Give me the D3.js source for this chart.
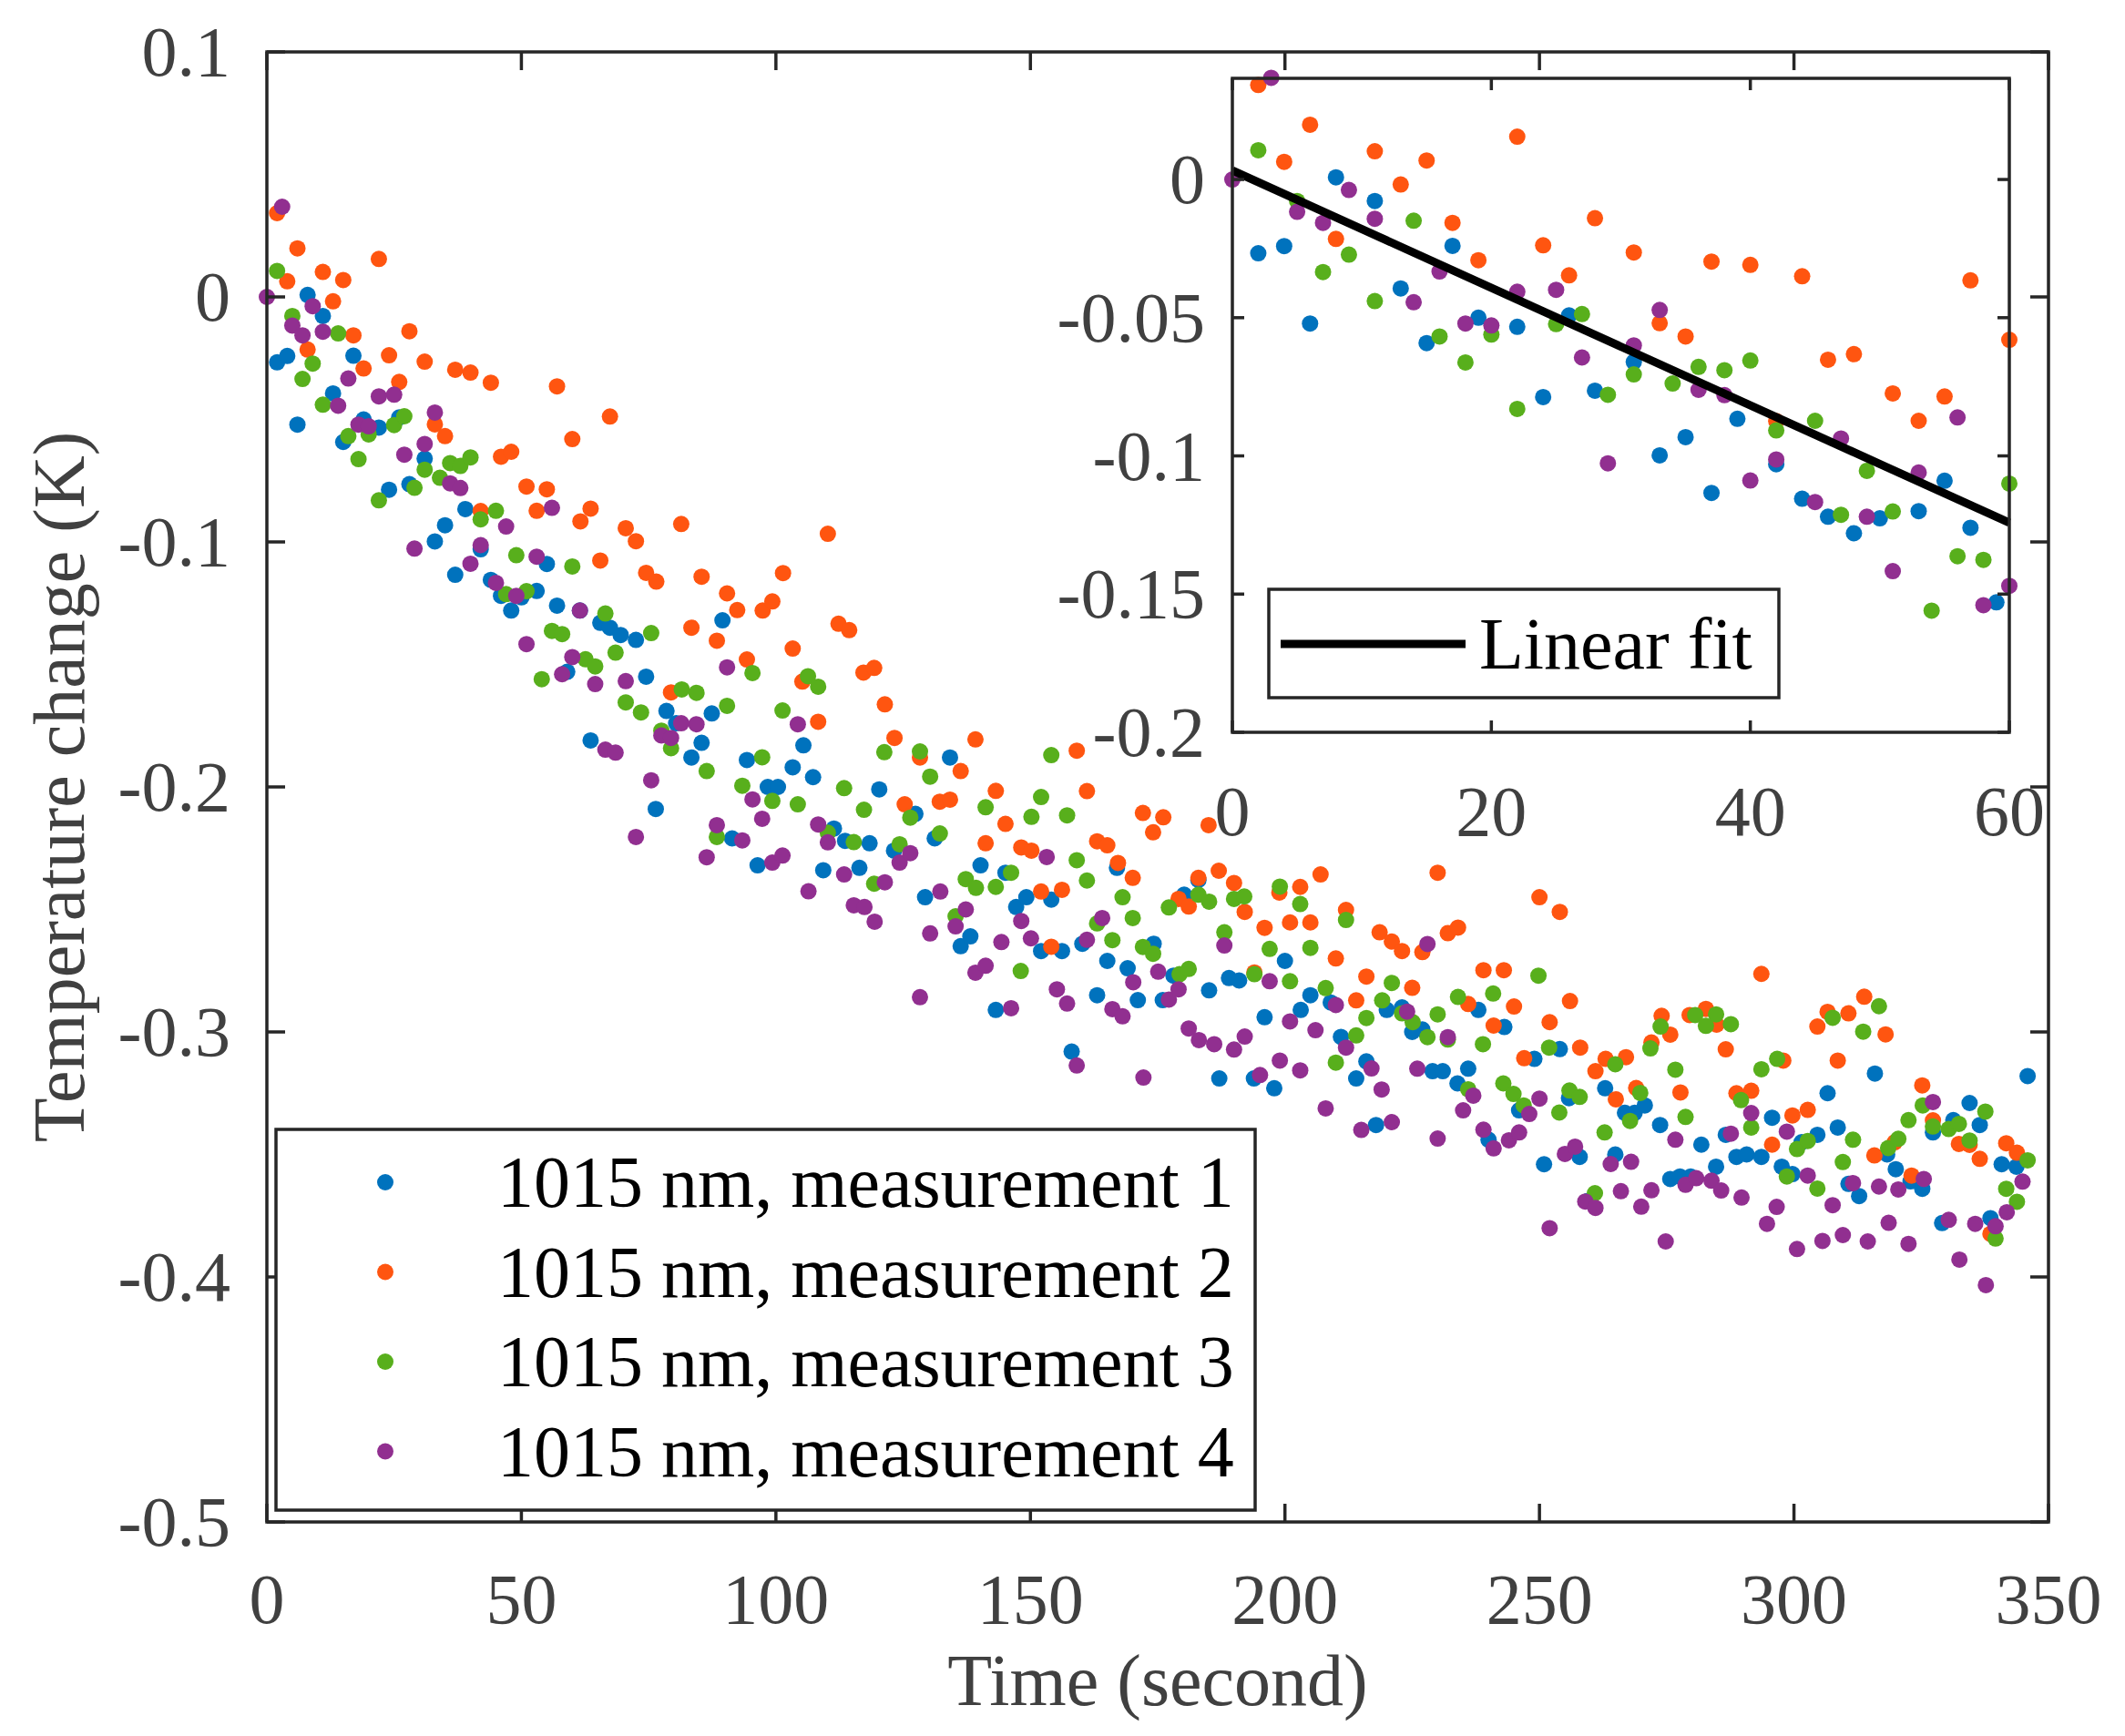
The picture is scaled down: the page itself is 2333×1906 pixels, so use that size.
<!DOCTYPE html>
<html>
<head>
<meta charset="utf-8">
<script src="https://cdn.jsdelivr.net/npm/d3@7/dist/d3.min.js"></script>
<style>
    body { margin: 0; background: #fff; }
    text { font-family: "Liberation Serif", "Times New Roman", serif; }
</style>
</head>
<body>
<div class="wrapper-svg"></div>
<script>
// data -----------------------------------------------------------------
var seriesNames = ['1015 nm, measurement 1', '1015 nm, measurement 2', '1015 nm, measurement 3', '1015 nm, measurement 4'];

var time1 = [2,4,6,8,11,13,15,17,19,22,24,26,28,31,33,35,37,39,42,44,46,48,50,53,55,57,59,
    61.5,63.6,65.5,67.4,69.5,72.5,74.5,76.4,78.5,80.4,83.4,85.4,87.4,89.5,91.4,94.3,96.4,98.4,100.4,103.3,105.4,107.3,109.3,111.4,113.6,
    116.4,118.4,120.3,123.2,127.4,129.3,131.2,134.2,136.3,138.2,140.2,143.2,145.1,147.2,149.2,152.1,154.1,156.2,158.1,160.2,163.1,
    165.1,167,169.1,171.1,174.2,176,178.1,180.2,183,185.1,187.1,189,191,193.9,196,197.9,200,203.1,205,209,211,214,216,217.9,
    220,223,225,227,229,231,233.9,236,238,240,243.1,246,249,250.9,254,255.8,257.9,259.5,262.9,264.9,266.8,268.7,270.7,273.7,
    275.7,277.6,279.7,281.8,284.7,286.6,288.7,290.7,293.6,295.7,297.6,299.7,301.5,304.6,306.6,308.6,310.7,312.8,315.9,318.3,320,322.9,325.2,327.3,329.1,331.3,334.5,336.5,338.6,340.8,343.7,345.9];
var temp1 = [-0.0267,-0.0241,-0.0521,0.0008,-0.0078,-0.0394,-0.0592,-0.024,-0.05,-0.0533,-0.0787,-0.0492,-0.0764,-0.066,-0.0998,-0.0932,-0.1134,-0.0866,-0.103,-0.1155,-0.122,-0.128,-0.1226,-0.12,-0.109,-0.126,-0.153,
    -0.128,-0.181,-0.133,-0.135,-0.138,-0.140,-0.155,-0.209,-0.169,-0.174,-0.188,-0.182,-0.170,-0.132,-0.221,-0.189,-0.232,-0.200,-0.200,-0.192,-0.183,-0.196,-0.234,-0.217,-0.222,
    -0.233,-0.223,-0.201,-0.226,-0.211,-0.245,-0.221,-0.188,-0.265,-0.261,-0.232,-0.291,-0.235,-0.249,-0.245,-0.267,-0.246,-0.267,-0.308,-0.264,-0.285,
    -0.271,-0.233,-0.274,-0.287,-0.264,-0.287,-0.277,-0.244,-0.238,-0.283,-0.319,-0.278,-0.279,-0.319,-0.294,-0.323,-0.271,-0.291,-0.285,-0.288,-0.302,-0.319,-0.312,-0.338,
    -0.291,-0.290,-0.300,-0.299,-0.316,-0.316,-0.321,-0.315,-0.291,-0.344,-0.298,-0.332,-0.311,-0.354,-0.307,-0.327,-0.351,-0.369,-0.323,-0.350,-0.333,-0.333,-0.330,-0.338,
    -0.360,-0.359,-0.359,-0.346,-0.355,-0.342,-0.351,-0.350,-0.351,-0.335,-0.355,-0.358,-0.345,-0.342,-0.325,-0.339,-0.362,-0.367,-0.317,-0.350,-0.356,-0.361,-0.364,-0.341,-0.378,-0.336,-0.329,-0.338,-0.376,-0.354,-0.355,-0.318];

var time2 = [2,4,6,8,11,13,15,17,19,22,24,26,28,31,33,35,37,40,42,44,46,48,51,53,55,57,60,
    61.6,63.6,65.5,67.4,70.5,72.5,74.5,76.5,79.4,81.4,83.4,85.4,88.4,90.4,92.4,94.3,97.4,99.3,101.4,103.3,105.2,108.3,110.2,112.3,114.4,
    117.2,119.3,121.4,123.3,125.3,128.3,132.2,134.2,136.3,139.2,141.2,143.2,145.1,148.2,150.2,152.1,154.1,156.2,159.1,161.1,163.1,
    165.1,167.2,170.1,172.1,174.1,176.1,179.1,181.1,183,185,187,190,192.1,194,196,198.9,201,203,205,207,210,212,214,216,218.6,
    221,223,225,227,230,232,234,236,239,241,243,245,247,250,252,254,256,258,261,263,265,267,269,272,274,
    275.7,277.7,279.5,282.7,284.8,286.6,288.7,291.6,293.6,295.7,297.9,299.7,302.7,304.6,306.6,308.6,310.7,313.8,315.8,318,319.8,323.1,325.2,327.3,332.4,334.5,336.5,338.6,341.7,343.8];
var temp2 = [0.0342,0.0064,0.0198,-0.0215,0.0102,-0.0018,0.0069,-0.0157,-0.0292,0.0155,-0.0238,-0.0347,-0.014,-0.0264,-0.052,-0.0568,-0.0297,-0.0309,-0.0874,-0.035,-0.0652,-0.0632,-0.0774,-0.0873,-0.0785,-0.0365,-0.058,
    -0.0916,-0.0864,-0.1076,-0.0488,-0.0944,-0.0997,-0.1126,-0.1162,-0.1614,-0.0927,-0.135,-0.1142,-0.1403,-0.121,-0.1278,-0.148,-0.128,-0.1243,-0.1127,-0.1435,-0.157,-0.1734,-0.0967,-0.1334,-0.136,
    -0.1533,-0.1514,-0.1663,-0.18,-0.2071,-0.188,-0.206,-0.2052,-0.1935,-0.1806,-0.223,-0.2016,-0.2151,-0.2247,-0.226,-0.2427,-0.2652,-0.242,-0.1852,-0.2017,-0.2222,
    -0.2238,-0.231,-0.2371,-0.2106,-0.2185,-0.2124,-0.2457,-0.2488,-0.2371,-0.2156,-0.2342,-0.2392,-0.251,-0.2757,-0.2575,-0.2431,-0.2553,-0.2408,-0.2553,-0.2357,-0.27,-0.2502,-0.2871,-0.2774,-0.2593,
    -0.2631,-0.267,-0.282,-0.2674,-0.235,-0.2597,-0.2574,-0.2886,-0.2748,-0.2974,-0.2748,-0.2896,-0.3107,-0.245,-0.296,-0.251,-0.2874,-0.3064,-0.316,-0.311,-0.3275,-0.3103,-0.3229,-0.3043,-0.2934,
    -0.3011,-0.3247,-0.2931,-0.2906,-0.297,-0.3071,-0.325,-0.324,-0.2763,-0.346,-0.3117,-0.3341,-0.3318,-0.2978,-0.2918,-0.3117,-0.2924,-0.2856,-0.3504,-0.301,-0.345,-0.3586,-0.3218,-0.3361,-0.3457,-0.3461,-0.3518,-0.3824,-0.3454,-0.3493];

var time3 = [2,5,7,9,11,14,16,18,20,22,25,27,29,31,34,36,38,40,42,45,47,49,51,54,56,58,60,
    62.6,64.5,66.5,68.5,70.5,73.5,75.5,77.5,79.4,81.5,84.4,86.4,88.4,90.4,93.4,95.4,97.3,99.3,101.3,104.3,106.3,108.3,110.2,113.4,
    115.3,117.3,119.3,121.3,124.3,126.4,128.3,130.3,132.2,135.3,137.3,139.3,141.2,143.2,146.2,148.1,150.2,152.1,154.1,157.2,159.1,161.1,163.1,
    166.1,168.1,170.1,172.1,174.1,177.2,179.3,181.1,183,185.1,188.1,190,192,194,197,199,201,203,205,208,210,212,214,216,219.1,
    221,223,225.1,228,230,232,234,236,238.9,240.9,242.9,244.9,246.9,249.8,251.9,253.9,255.9,257.9,260.9,262.8,264.9,267.8,269.8,271.8,273.8,
    276.7,278.7,280.6,282.7,284.7,287.6,289.6,291.6,293.6,296.7,298.6,300.6,302.7,304.6,307.6,309.6,311.6,313.6,316.7,318.5,320.5,322.5,325.3,327.3,330.4,332.4,334.5,337.6,339.6,341.7,343.8,345.9];
var temp3 = [0.0106,-0.0078,-0.0335,-0.0272,-0.044,-0.0149,-0.0568,-0.0662,-0.0561,-0.083,-0.0523,-0.0487,-0.0779,-0.0705,-0.0738,-0.0678,-0.069,-0.0655,-0.0908,-0.0873,-0.1213,-0.1054,-0.1201,-0.156,-0.1363,-0.1376,-0.11,
    -0.1479,-0.1508,-0.1292,-0.1452,-0.1655,-0.1696,-0.1372,-0.177,-0.1842,-0.1602,-0.1616,-0.1935,-0.2204,-0.1669,-0.1995,-0.1535,-0.1879,-0.2057,-0.1688,-0.2071,-0.1548,-0.1591,-0.2187,-0.2005,
    -0.2225,-0.2093,-0.2395,-0.1858,-0.2234,-0.2125,-0.1855,-0.1958,-0.219,-0.2528,-0.2376,-0.2412,-0.2083,-0.2408,-0.235,-0.2751,-0.2122,-0.2041,-0.187,-0.2116,-0.2299,-0.2382,-0.2557,
    -0.2625,-0.245,-0.2535,-0.2653,-0.2681,-0.2492,-0.2764,-0.2743,-0.244,-0.2468,-0.2593,-0.2457,-0.2447,-0.2764,-0.2661,-0.2407,-0.2793,-0.2478,-0.2657,-0.2821,-0.3125,-0.2543,-0.3014,-0.2943,-0.2871,
    -0.28,-0.2924,-0.296,-0.3021,-0.2928,-0.3031,-0.2857,-0.3234,-0.305,-0.2843,-0.321,-0.3253,-0.33,-0.277,-0.3064,-0.3329,-0.3239,-0.3265,-0.3658,-0.341,-0.3132,-0.3363,-0.3249,-0.3067,-0.2978,
    -0.3154,-0.3347,-0.2931,-0.2975,-0.2928,-0.2968,-0.3278,-0.339,-0.3152,-0.311,-0.359,-0.3478,-0.3445,-0.3639,-0.2942,-0.3531,-0.344,-0.2999,-0.2895,-0.3474,-0.3436,-0.336,-0.33,-0.3386,-0.3396,-0.3375,-0.3443,-0.3325,-0.3843,-0.364,-0.3693,-0.3524];

var time4 = [0,3,5,7,9,11,14,16,18,20,22,25,27,29,31,33,36,38,40,42,45,47,49,51,53,56,58,60,
    61.5,64.5,66.5,68.5,70.5,72.5,75.5,77.5,79.4,81.4,84.4,86.4,88.4,90.4,93.4,95.4,97.3,99.3,101.3,104.3,106.4,108.3,110.2,113.4,
    115.3,117.4,119.4,121.4,124.3,126.4,128.3,130.3,132.3,135.3,137.3,139.2,141.2,144.3,146.2,148.2,150.1,153.2,155.2,157.2,159.1,161.1,164.1,
    166.1,168.1,170.2,172.2,175.1,177.2,179.1,181.1,183.1,186.1,188.1,190,192.1,195.1,197,199,201,203,206,208,210,212,215,217,219,
    221,224,226,228,230,232,235,237,239,241,244,246,248,250,252,255,257,259,261,264,266,268,270,272,274.8,
    276.7,278.7,280.8,283.8,285.7,287.6,289.7,291.6,294.7,296.6,298.6,300.6,302.7,305.6,307.6,309.6,311.6,314.5,316.7,318.6,320.5,322.5,325.5,327.3,330.4,332.5,335.6,337.7,339.6,341.8,344.9];
var temp4 = [0,0.0368,-0.0117,-0.0157,-0.0038,-0.0142,-0.0444,-0.0333,-0.0521,-0.0528,-0.0406,-0.0399,-0.0644,-0.1027,-0.060,-0.0472,-0.0761,-0.078,-0.1089,-0.1013,-0.1167,-0.0937,-0.122,-0.1417,-0.106,-0.0861,-0.154,-0.147,
    -0.128,-0.158,-0.1848,-0.186,-0.1568,-0.2204,-0.1973,-0.179,-0.18,-0.174,-0.1744,-0.2287,-0.2156,-0.1512,-0.2218,-0.2051,-0.213,-0.2309,-0.228,-0.1744,-0.2426,-0.2153,-0.2226,-0.2357,
    -0.2483,-0.249,-0.255,-0.2389,-0.2309,-0.227,-0.2858,-0.2598,-0.2427,-0.2569,-0.25,-0.2758,-0.273,-0.2633,-0.2903,-0.2547,-0.2618,-0.2286,-0.2826,-0.2884,-0.3137,-0.2624,-0.2535,
    -0.2907,-0.2936,-0.2797,-0.3186,-0.2754,-0.2868,-0.2826,-0.2986,-0.3033,-0.305,-0.2647,-0.3072,-0.3019,-0.3176,-0.2793,-0.3117,-0.2957,-0.3157,-0.2993,-0.3312,-0.289,-0.3064,-0.34,-0.3149,-0.3235,
    -0.3368,-0.2917,-0.315,-0.2641,-0.3435,-0.3021,-0.332,-0.326,-0.3399,-0.3475,-0.3442,-0.341,-0.3335,-0.3272,-0.3801,-0.3498,-0.3468,-0.3692,-0.3718,-0.3539,-0.365,-0.353,-0.3713,-0.3646,-0.3855,
    -0.344,-0.3624,-0.3597,-0.3607,-0.3647,-0.3415,-0.3676,-0.3331,-0.3783,-0.3714,-0.3407,-0.3886,-0.3586,-0.3853,-0.3707,-0.3829,-0.3617,-0.3855,-0.3631,-0.3779,-0.3643,-0.3865,-0.36,-0.3286,-0.3767,-0.3929,-0.3783,-0.4033,-0.3793,-0.3736,-0.3611];

// linear fit drawn in the inset (end points)
var fitTime = [0, 60];
var fitTemp = [0.0033, -0.1242];

var xTicks = [0, 50, 100, 150, 200, 250, 300, 350];
var yTicks = [0.1, 0, -0.1, -0.2, -0.3, -0.4, -0.5];
var insetXTicks = [0, 20, 40, 60];
var insetYTicks = [0, -0.05, -0.1, -0.15, -0.2];

var colors = ['#0072BD', '#FF5510', '#58AF1C', '#912F90'];
var axisColor = '#262626';
var labelColor = '#404040';

var series = [
    {name: seriesNames[0], t: time1, v: temp1},
    {name: seriesNames[1], t: time2, v: temp2},
    {name: seriesNames[2], t: time3, v: temp3},
    {name: seriesNames[3], t: time4, v: temp4}
];

function points(s) {
    return s.t.map(function(t, i) { return {t: t, v: s.v[i]}; });
}

var svg = d3.select('.wrapper-svg')
    .append('svg')
    .attr('width', 2333)
    .attr('height', 1906)
    .style('display', 'block');

svg.append('rect')
    .attr('width', 2333)
    .attr('height', 1906)
    .attr('fill', '#fff');

// draws a matlab-like box with inward ticks on all four sides
function drawBox(g, x, y, xt, yt, tickLen, labelGap) {
    var x0 = x.range()[0], x1 = x.range()[1];
    var y0 = y.range()[0], y1 = y.range()[1];

    xt.forEach(function(d) {
        g.append('line').attr('x1', x(d)).attr('x2', x(d)).attr('y1', y0).attr('y2', y0 - tickLen)
            .attr('stroke', axisColor).attr('stroke-width', 3.5);
        g.append('line').attr('x1', x(d)).attr('x2', x(d)).attr('y1', y1).attr('y2', y1 + tickLen)
            .attr('stroke', axisColor).attr('stroke-width', 3.5);
        g.append('text')
            .text(String(d))
            .attr('x', x(d))
            .attr('y', y0 + labelGap.x)
            .attr('text-anchor', 'middle')
            .style('font-size', '78px')
            .attr('fill', labelColor);
    });

    yt.forEach(function(d) {
        g.append('line').attr('x1', x0).attr('x2', x0 + tickLen).attr('y1', y(d)).attr('y2', y(d))
            .attr('stroke', axisColor).attr('stroke-width', 3.5);
        g.append('line').attr('x1', x1).attr('x2', x1 - tickLen).attr('y1', y(d)).attr('y2', y(d))
            .attr('stroke', axisColor).attr('stroke-width', 3.5);
        g.append('text')
            .text(String(d))
            .attr('x', x0 - labelGap.y)
            .attr('y', y(d) + 26)
            .attr('text-anchor', 'end')
            .style('font-size', '78px')
            .attr('fill', labelColor);
    });

    g.append('rect')
        .attr('x', x0)
        .attr('y', y1)
        .attr('width', x1 - x0)
        .attr('height', y0 - y1)
        .attr('fill', 'none')
        .attr('stroke', axisColor)
        .attr('stroke-width', 3.5);
}

//Main axes ----------------------------------------------------------------
var x = d3.scaleLinear().domain([0, 350]).range([293, 2249]);
var y = d3.scaleLinear().domain([-0.5, 0.1]).range([1671, 57]);

var main = svg.append('g');

series.forEach(function(s, i) {
    main.append('g')
        .selectAll('circle')
        .data(points(s))
        .enter()
        .append('circle')
        .attr('cx', function(d) { return x(d.t); })
        .attr('cy', function(d) { return y(d.v); })
        .attr('r', 9)
        .attr('fill', colors[i]);
});

drawBox(main, x, y, xTicks, yTicks, 20, {x: 111, y: 40});

main.append('text')
    .text('Time (second)')
    .attr('x', (x.range()[0] + x.range()[1]) / 2)
    .attr('y', 1872)
    .attr('text-anchor', 'middle')
    .style('font-size', '80px')
    .attr('fill', labelColor);

main.append('text')
    .text('Temperature change (K)')
    .attr('transform', 'translate(92,' + ((y.range()[0] + y.range()[1]) / 2) + ') rotate(-90)')
    .attr('text-anchor', 'middle')
    .style('font-size', '80px')
    .attr('fill', labelColor);

//Legend of the main axes --------------------------------------------------
var legend = main.append('g');

legend.append('rect')
    .attr('x', 303)
    .attr('y', 1240)
    .attr('width', 1075)
    .attr('height', 418)
    .attr('fill', '#fff')
    .attr('stroke', axisColor)
    .attr('stroke-width', 3.5);

seriesNames.forEach(function(name, i) {
    var ly = 1298 + i * 98.5;
    legend.append('circle')
        .attr('cx', 423)
        .attr('cy', ly)
        .attr('r', 9)
        .attr('fill', colors[i]);
    legend.append('text')
        .text(name)
        .attr('x', 546)
        .attr('y', ly + 27)
        .style('font-size', '80px')
        .attr('fill', '#000');
});

//Inset axes ----------------------------------------------------------------
var ix = d3.scaleLinear().domain([0, 60]).range([1353, 2206]);
var iy = d3.scaleLinear().domain([-0.2, 0.0366]).range([804, 86]);

var inset = svg.append('g');

inset.append('rect')
    .attr('x', 1353)
    .attr('y', 86)
    .attr('width', 2206 - 1353)
    .attr('height', 804 - 86)
    .attr('fill', '#fff');

series.forEach(function(s, i) {
    inset.append('g')
        .selectAll('circle')
        .data(points(s).filter(function(d) { return d.t <= 60.5; }))
        .enter()
        .append('circle')
        .attr('cx', function(d) { return ix(d.t); })
        .attr('cy', function(d) { return iy(d.v); })
        .attr('r', 9)
        .attr('fill', colors[i]);
});

inset.append('line')
    .attr('x1', ix(fitTime[0]))
    .attr('y1', iy(fitTemp[0]))
    .attr('x2', ix(fitTime[1]))
    .attr('y2', iy(fitTemp[1]))
    .attr('stroke', '#000')
    .attr('stroke-width', 9);

drawBox(inset, ix, iy, insetXTicks, insetYTicks, 13, {x: 113, y: 30});

inset.append('rect')
    .attr('x', 1393)
    .attr('y', 647)
    .attr('width', 560)
    .attr('height', 119)
    .attr('fill', '#fff')
    .attr('stroke', axisColor)
    .attr('stroke-width', 3.5);

inset.append('line')
    .attr('x1', 1406)
    .attr('x2', 1609)
    .attr('y1', 707)
    .attr('y2', 707)
    .attr('stroke', '#000')
    .attr('stroke-width', 9);

inset.append('text')
    .text('Linear fit')
    .attr('x', 1624)
    .attr('y', 734)
    .style('font-size', '80px')
    .attr('fill', '#000');
</script>
</body>
</html>
